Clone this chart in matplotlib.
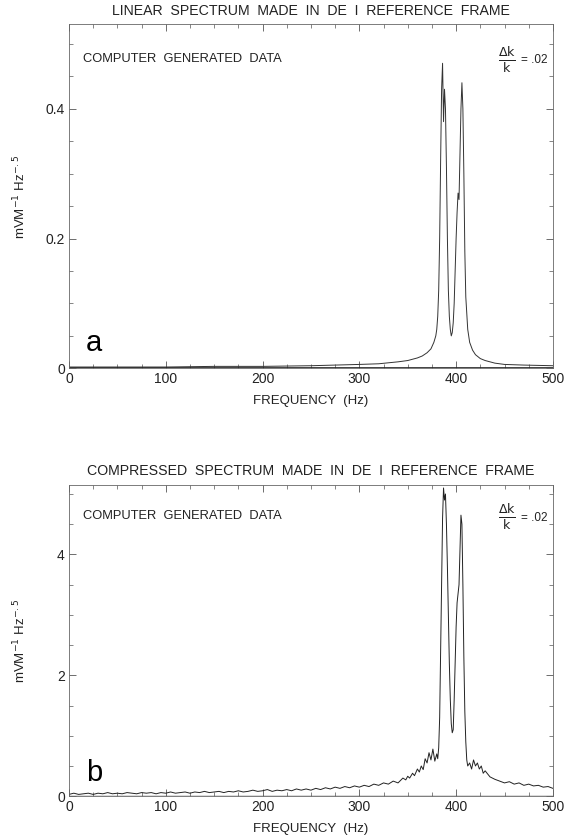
import numpy as np
import matplotlib.pyplot as plt
from matplotlib.ticker import MultipleLocator

plt.rcParams['font.family'] = ['Liberation Sans', 'DejaVu Sans']

# Panel a: linear spectrum (freq in Hz, amplitude in mV/m/sqrt(Hz))
freq_a = [0, 50, 100, 150, 200, 250, 300, 320, 340, 350, 360, 365, 370, 374, 377,
          379, 380, 381, 382, 383, 384, 385, 386, 387, 388, 389, 390, 391, 392,
          393, 394, 395, 396, 397, 398, 399, 400, 401, 402, 403, 404, 405, 406,
          407, 408, 409, 410, 412, 414, 417, 420, 425, 430, 440, 450, 470, 500]
amp_a = [0.002, 0.002, 0.002, 0.003, 0.003, 0.004, 0.006, 0.007, 0.010, 0.012, 0.016, 0.019, 0.024, 0.030, 0.040,
         0.050, 0.06, 0.08, 0.12, 0.20, 0.32, 0.43, 0.47, 0.38, 0.43, 0.40, 0.31, 0.20, 0.12,
         0.08, 0.06, 0.05, 0.055, 0.07, 0.10, 0.15, 0.20, 0.24, 0.27, 0.26, 0.33, 0.40, 0.44,
         0.40, 0.30, 0.18, 0.11, 0.06, 0.040, 0.028, 0.021, 0.015, 0.012, 0.008, 0.006, 0.005, 0.004]

# Panel b: compressed spectrum
freq_b = [0, 5, 10, 15, 20, 25, 30, 35, 40, 45, 50, 55, 60, 65, 70, 75, 80, 85, 90, 95,
          100, 105, 110, 115, 120, 125, 130, 135, 140, 145, 150, 155, 160, 165, 170, 175,
          180, 185, 190, 195, 200, 205, 210, 215, 220, 225, 230, 235, 240, 245, 250, 255,
          260, 265, 270, 275, 280, 285, 290, 295, 300, 305, 310, 315, 320, 325, 330, 335,
          340, 345, 348, 350, 352, 355, 357, 360, 362, 364, 366, 368, 370, 372, 374, 376,
          378, 380, 381, 382, 383, 384, 385, 386, 387, 388, 389, 390, 391, 392, 393, 394,
          395, 396, 397, 398, 399, 400, 401, 402, 403, 404, 405, 406, 407, 408, 409, 410,
          411, 412, 414, 416, 418, 420, 422, 424, 426, 428, 430, 435, 440, 445, 450, 455,
          460, 465, 470, 475, 480, 485, 490, 495, 500]
amp_b = [0.03, 0.05, 0.03, 0.04, 0.05, 0.03, 0.05, 0.04, 0.06, 0.04, 0.05, 0.04, 0.06, 0.05, 0.04, 0.06, 0.05, 0.06, 0.04, 0.06,
         0.05, 0.07, 0.05, 0.06, 0.07, 0.05, 0.07, 0.06, 0.08, 0.06, 0.07, 0.08, 0.06, 0.08, 0.07, 0.09,
         0.07, 0.08, 0.10, 0.08, 0.09, 0.11, 0.08, 0.10, 0.09, 0.11, 0.09, 0.12, 0.10, 0.12, 0.10, 0.13,
         0.11, 0.14, 0.12, 0.15, 0.13, 0.16, 0.14, 0.17, 0.15, 0.18, 0.16, 0.20, 0.18, 0.22, 0.20, 0.25,
         0.22, 0.30, 0.27, 0.33, 0.30, 0.38, 0.34, 0.45, 0.40, 0.50, 0.44, 0.62, 0.55, 0.72, 0.60, 0.78,
         0.58, 0.70, 0.62, 0.80, 1.3, 2.4, 3.6, 4.6, 5.1, 4.9, 5.0, 4.5, 3.8, 3.0, 2.2, 1.6,
         1.2, 1.05, 1.1, 1.6, 2.2, 2.8, 3.2, 3.35, 3.5, 4.1, 4.65, 4.5, 3.5, 2.3, 1.4, 0.9,
         0.6, 0.5, 0.55, 0.45, 0.6, 0.5, 0.55, 0.45, 0.5, 0.38, 0.42, 0.32, 0.28, 0.25, 0.22, 0.24,
         0.2, 0.22, 0.18, 0.2, 0.17, 0.18, 0.15, 0.16, 0.13]

titles = ['LINEAR  SPECTRUM  MADE  IN  DE  I  REFERENCE  FRAME',
          'COMPRESSED  SPECTRUM  MADE  IN  DE  I  REFERENCE  FRAME']
ylabel = r'mVM$^{-1}$ Hz$^{-.5}$'

fig = plt.figure(figsize=(5.7, 8.39), dpi=100)
ax1 = fig.add_axes([0.121, 0.561, 0.849, 0.410])
ax2 = fig.add_axes([0.121, 0.051, 0.849, 0.371])

ink = '#222222'

def style(ax, title, yticks, yticklabels, ymax, yminor, letter):
    ax.set_xlim(0, 500)
    ax.set_ylim(0, ymax)
    ax.set_xticks([0, 100, 200, 300, 400, 500])
    ax.set_xticklabels(['0', '100', '200', '300', '400', '500'])
    ax.xaxis.set_minor_locator(MultipleLocator(25))
    ax.set_yticks(yticks)
    ax.set_yticklabels(yticklabels)
    ax.yaxis.set_minor_locator(MultipleLocator(yminor))
    ax.tick_params(which='both', direction='in', top=True, right=True,
                   color='#555555', labelsize=10, labelcolor=ink, pad=3)
    ax.tick_params(which='major', length=5, width=0.6)
    ax.tick_params(which='minor', length=3, width=0.5)
    for s in ax.spines.values():
        s.set_linewidth(0.6)
        s.set_color('#666666')
    ax.set_xlabel('FREQUENCY  (Hz)', fontsize=9.5, color=ink, labelpad=6)
    ax.set_ylabel(ylabel, fontsize=9.5, color=ink)
    ax.yaxis.set_label_coords(-0.085, 0.5)
    ax.set_title(title, fontsize=10.2, color=ink, pad=7)
    ax.text(0.03, 0.90, 'COMPUTER  GENERATED  DATA', transform=ax.transAxes,
            fontsize=9.3, color=ink, va='center')
    ax.text(0.905, 0.895, r'$\frac{\Delta \mathrm{k}}{\mathrm{k}}$', transform=ax.transAxes,
            fontsize=13, color=ink, va='center', ha='center')
    ax.text(0.935, 0.895, '= .02', transform=ax.transAxes,
            fontsize=8.5, color=ink, va='center')
    ax.text(0.035, 0.075, letter, transform=ax.transAxes,
            fontsize=21, color='black', va='center')

ax1.plot(freq_a, amp_a, color='#333333', lw=0.7)
ax1.axhline(0.001, color='#222222', lw=1.2)
style(ax1, titles[0], [0, 0.2, 0.4], ['0', '0.2', '0.4'], 0.53, 0.05, 'a')

ax2.plot(freq_b, amp_b, color='#222222', lw=0.7)
ax2.axhline(0.01, color='#444444', lw=1.0)
style(ax2, titles[1], [0, 2, 4], ['0', '2', '4'], 5.15, 0.5, 'b')

fig.savefig('out.png', dpi=100)
